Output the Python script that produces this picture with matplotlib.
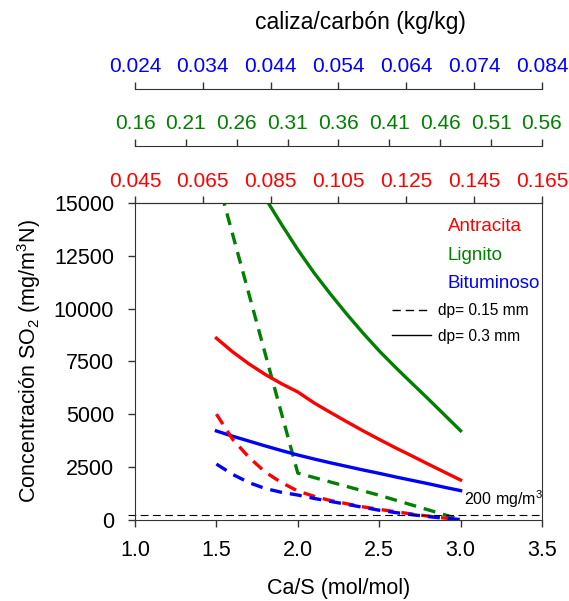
import numpy as np
import matplotlib.pyplot as plt
from matplotlib.lines import Line2D

plt.rcParams['font.family'] = ['Liberation Sans', 'DejaVu Sans']
plt.rcParams['mathtext.fontset'] = 'custom'
plt.rcParams['mathtext.rm'] = 'Liberation Sans'
plt.rcParams['mathtext.it'] = 'Liberation Sans:italic'

# Ca/S (mol/mol) vs SO2 concentration (mg/m3N)
ant_x_03 = [1.5, 1.6, 1.7, 1.8, 1.9, 2.0, 2.1, 2.2, 2.3, 2.4, 2.5, 2.6, 2.7, 2.8, 2.9, 3.0]
ant_y_03 = [8600, 7950, 7380, 6880, 6440, 6050, 5530, 5080, 4640, 4210, 3800, 3400, 3020, 2630, 2250, 1870]
ant_x_015 = [1.5, 1.6, 1.7, 1.8, 1.9, 2.0, 2.1, 2.2, 2.3, 2.4, 2.5, 2.6, 2.7, 2.8, 2.9, 3.0]
ant_y_015 = [5000, 3800, 2950, 2250, 1750, 1350, 1100, 900, 750, 600, 480, 370, 260, 160, 70, 0]

lig_x_03 = [1.8, 1.9, 2.0, 2.1, 2.2, 2.3, 2.4, 2.5, 2.6, 2.7, 2.8, 2.9, 3.0]
lig_y_03 = [15250, 14000, 12800, 11700, 10700, 9750, 8850, 8000, 7220, 6470, 5730, 4970, 4210]
lig_x_015 = [1.5, 2.0, 2.5, 3.0]
lig_y_015 = [16350, 2200, 1150, 0]

bit_x_03 = [1.5, 1.6, 1.7, 1.8, 1.9, 2.0, 2.1, 2.2, 2.3, 2.4, 2.5, 2.6, 2.7, 2.8, 2.9, 3.0]
bit_y_03 = [4200, 3950, 3720, 3490, 3270, 3060, 2870, 2690, 2520, 2350, 2190, 2020, 1860, 1700, 1530, 1370]
bit_x_015 = [1.5, 1.6, 1.7, 1.8, 1.9, 2.0, 2.1, 2.2, 2.3, 2.4, 2.5, 2.6, 2.7, 2.8, 2.9, 3.0]
bit_y_015 = [2630, 2140, 1750, 1470, 1290, 1160, 1000, 860, 720, 580, 440, 330, 230, 140, 60, 0]

limite = 200

# caliza/carbón (kg/kg) axes
red_ticks = [0.045, 0.065, 0.085, 0.105, 0.125, 0.145, 0.165]
green_ticks = [0.16, 0.21, 0.26, 0.31, 0.36, 0.41, 0.46, 0.51, 0.56]
blue_ticks = [0.024, 0.034, 0.044, 0.054, 0.064, 0.074, 0.084]

RED = '#ff0000'
GREEN = '#008000'
BLUE = '#0000ff'
SPINE = '#333333'
FS = 15.5
lw = 2.4
dash = (3.6, 2.4)

fig = plt.figure(figsize=(5.69, 6.01), dpi=100)
ax = fig.add_axes([135/569, 1-519.5/601, 407/569, 316.2/601])

ax.plot(lig_x_03, lig_y_03, color=GREEN, lw=lw)
ax.plot(lig_x_015, lig_y_015, color=GREEN, lw=lw, ls='--', dashes=dash)
ax.plot(ant_x_03, ant_y_03, color=RED, lw=lw)
ax.plot(bit_x_03, bit_y_03, color=BLUE, lw=lw)
ax.plot(ant_x_015, ant_y_015, color=RED, lw=lw, ls='--', dashes=dash)
ax.plot(bit_x_015, bit_y_015, color=BLUE, lw=lw, ls='--', dashes=dash)

ax.axhline(limite, xmin=-0.018, xmax=1.0, color='k', lw=0.8, ls='--',
           dashes=(7, 4), clip_on=False)
ax.text(3.02, limite + 230, '200 mg/m$^3$', fontsize=11.5, ha='left', va='bottom')

ax.set_xlim(1.0, 3.5)
ax.set_ylim(0, 15000)
ax.set_xticks([1.0, 1.5, 2.0, 2.5, 3.0, 3.5])
ax.set_yticks([0, 2500, 5000, 7500, 10000, 12500, 15000])
ax.xaxis.set_major_formatter(plt.FormatStrFormatter('%.1f'))
ax.tick_params(axis='both', direction='out', length=5, width=1, color=SPINE,
               labelsize=FS, pad=10)
ax.tick_params(axis='x', top=False)
for s in ax.spines.values():
    s.set_color(SPINE)
ax.set_xlabel('Ca/S (mol/mol)', fontsize=FS, labelpad=12)
ax.set_ylabel('Concentración SO$_2$ (mg/m$^3$N)', fontsize=FS, labelpad=8)

# legend text
ax.text(2.92, 13900, 'Antracita', color=RED, fontsize=13.5, va='center')
ax.text(2.92, 12540, 'Lignito', color=GREEN, fontsize=13.5, va='center')
ax.text(2.92, 11200, 'Bituminoso', color=BLUE, fontsize=13.5, va='center')
handles = [Line2D([], [], color='k', lw=1, ls='--', dashes=(6, 3.5)),
           Line2D([], [], color='k', lw=1)]
ax.legend(handles, ['dp= 0.15 mm', 'dp= 0.3 mm'], loc='center left',
          bbox_to_anchor=(0.631, 0.62), frameon=False, fontsize=11.2,
          handlelength=2.5, handletextpad=0.5, labelspacing=0.65,
          borderpad=0, borderaxespad=0)

# top axes
def top_axis(ticks, color, offset):
    t = ax.twiny()
    t.set_xlim(ticks[0], ticks[-1])
    t.set_xticks(ticks)
    t.set_xticklabels(['%g' % v for v in ticks])
    t.tick_params(axis='x', direction='out', length=5, width=1, color=SPINE,
                  labelsize=15, labelcolor=color, pad=4)
    for name in ['left', 'right', 'bottom']:
        t.spines[name].set_visible(False)
    t.spines['top'].set_color(SPINE)
    if offset:
        t.spines['top'].set_position(('outward', offset))
    return t

top_axis(red_ticks, RED, 0)
top_axis(green_ticks, GREEN, 57.5 * 72 / 100)
top_axis(blue_ticks, BLUE, 114.5 * 72 / 100)

fig.text(360/569, 1-23/601, 'caliza/carbón (kg/kg)', fontsize=16.5,
         ha='center', va='center')

fig.savefig('out.png', dpi=100)
